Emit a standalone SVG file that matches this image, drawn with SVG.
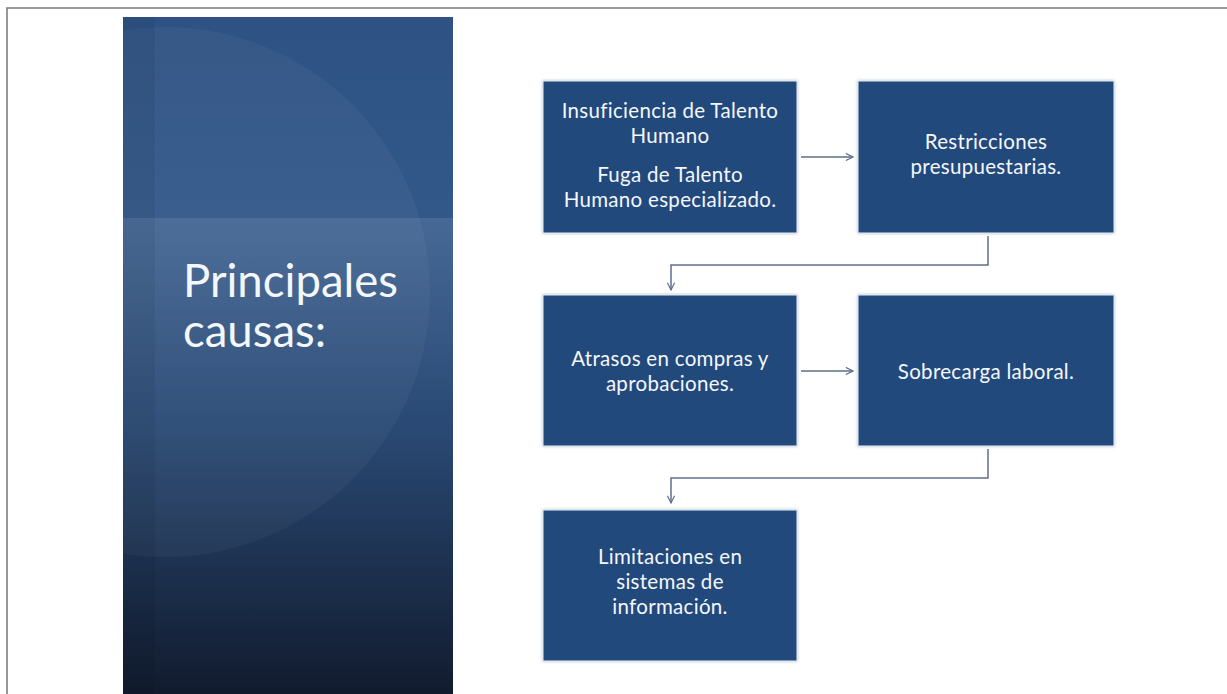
<svg xmlns="http://www.w3.org/2000/svg" width="1227" height="694" viewBox="0 0 1227 694">
<defs>
<linearGradient id="pg" x1="0" y1="0" x2="0" y2="1">
<stop offset="0" stop-color="#2d5283"/>
<stop offset="0.3" stop-color="#32588a"/>
<stop offset="0.6" stop-color="#2a4a75"/>
<stop offset="1" stop-color="#111b2e"/>
</linearGradient>
<linearGradient id="band" x1="0" y1="0" x2="0" y2="1">
<stop offset="0" stop-color="#ffffff" stop-opacity="0.1"/>
<stop offset="1" stop-color="#ffffff" stop-opacity="0"/>
</linearGradient>
<clipPath id="pc"><rect x="123" y="17" width="330" height="677"/></clipPath>
<marker id="ah" viewBox="0 0 10 10" refX="9" refY="5" markerWidth="9" markerHeight="9" markerUnits="userSpaceOnUse" orient="auto">
<path d="M1,1 L9,5 L1,9" fill="none" stroke="#5d6f8a" stroke-width="1.3"/>
</marker>
<filter id="sh" x="-5%" y="-5%" width="110%" height="110%">
<feDropShadow dx="0" dy="0" stdDeviation="1.5" flood-color="#9aa8bb" flood-opacity="0.8"/>
</filter>
</defs>
<style>
.box{fill:#214a7c;stroke:#e8edf3;stroke-width:1;filter:url(#sh)}
.t{font-family:Lato,"Open Sans",sans-serif;font-size:20.5px;letter-spacing:0.3px;fill:#f4f7fb;text-anchor:middle}
.title{font-family:Lato,"Open Sans",sans-serif;font-size:45.5px;fill:#f4f7fb}
.conn{fill:none;stroke:#5d6f8a;stroke-width:1.5;marker-end:url(#ah)}
</style>
<rect x="0" y="0" width="1227" height="694" fill="#ffffff"/>
<path d="M7,694 L7,8 L1227,8" fill="none" stroke="#777777" stroke-width="1.5"/>
<g id="panel" clip-path="url(#pc)">
<rect x="123" y="17" width="330" height="677" fill="url(#pg)"/>
<rect x="123" y="218" width="330" height="200" fill="url(#band)"/>
<circle cx="165" cy="292" r="265" fill="#ffffff" fill-opacity="0.04"/>
<rect x="123" y="17" width="32" height="677" fill="#000000" fill-opacity="0.06"/>
<text class="title" x="183" y="297">Principales</text>
<text class="title" x="183" y="347">causas:</text>
</g>
<g id="connectors">
<path class="conn" d="M801,157 L853,157"/>
<path class="conn" d="M988,236 L988,265 L671,265 L671,290"/>
<path class="conn" d="M801,371 L853,371"/>
<path class="conn" d="M988,449 L988,478 L671,478 L671,503"/>
</g>
<g id="n1">
<rect class="box" x="543" y="81" width="254" height="152"/>
<text class="t" x="670" y="118">Insuficiencia de Talento</text>
<text class="t" x="670" y="143">Humano</text>
<text class="t" x="670" y="182">Fuga de Talento</text>
<text class="t" x="670" y="207">Humano especializado.</text>
</g>
<g id="n2">
<rect class="box" x="858" y="81" width="256" height="152"/>
<text class="t" x="986" y="149">Restricciones</text>
<text class="t" x="986" y="174">presupuestarias.</text>
</g>
<g id="n3">
<rect class="box" x="543" y="295" width="254" height="151"/>
<text class="t" x="670" y="366">Atrasos en compras y</text>
<text class="t" x="670" y="391">aprobaciones.</text>
</g>
<g id="n4">
<rect class="box" x="858" y="295" width="256" height="151"/>
<text class="t" x="986" y="379">Sobrecarga laboral.</text>
</g>
<g id="n5">
<rect class="box" x="543" y="510" width="254" height="151"/>
<text class="t" x="670" y="564">Limitaciones en</text>
<text class="t" x="670" y="589">sistemas de</text>
<text class="t" x="670" y="614">información.</text>
</g>
</svg>
